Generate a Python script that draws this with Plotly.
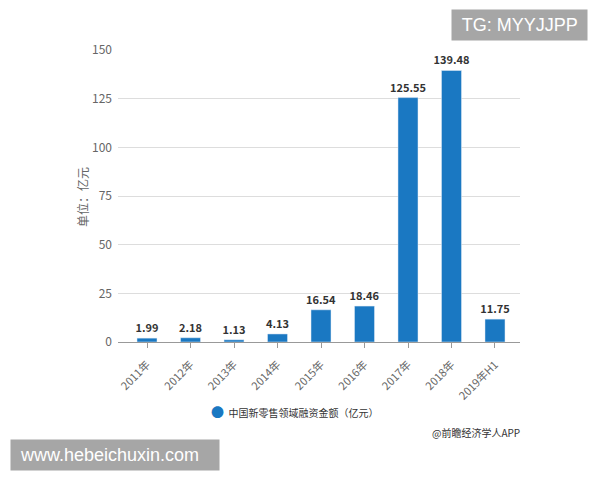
import plotly.graph_objects as go

categories = ["2011年", "2012年", "2013年", "2014年", "2015年", "2016年", "2017年", "2018年", "2019年H1"]
values = [1.99, 2.18, 1.13, 4.13, 16.54, 18.46, 125.55, 139.48, 11.75]
label_texts = ["1.99", "2.18", "1.13", "4.13", "16.54", "18.46", "125.55", "139.48", "11.75"]
series_name = "中国新零售领域融资金额（亿元）"

font_family = "Noto Sans CJK SC, Noto Sans, sans-serif"

# page body has an 8px default margin, so the figure is drawn 8px smaller
W, H = 592, 472
L, R, T, B = 110, 80, 42, 138
PW = W - L - R
PH = H - T - B


def px_x(x):
    return (x - 8 - L) / PW


def px_y(y):
    return (H - B - (y - 8)) / PH


fig = go.Figure()
fig.add_trace(go.Bar(
    x=categories, y=values, name=series_name,
    marker=dict(color="#1a78c2"),
    text=["<b>" + t + "</b>" for t in label_texts], textposition="outside",
    textfont=dict(size=11, color="#333333", family="Noto Sans CJK SC"),
    constraintext="none",
    cliponaxis=False,
    width=0.46,
))

fig.update_layout(
    width=W, height=H,
    margin=dict(l=L, r=R, t=T, b=B, autoexpand=False),
    paper_bgcolor="white", plot_bgcolor="white",
    font=dict(family=font_family, color="#666666", size=11),
    showlegend=False,
    xaxis=dict(
        range=[-0.667, 8.575],
        tickangle=-45, showgrid=False,
        showline=True, linecolor="#999999", linewidth=1,
        ticks="outside", ticklen=5, tickcolor="#999999",
        tickfont=dict(size=11, color="#666666"),
        ticklabelstandoff=6,
    ),
    yaxis=dict(
        range=[0, 150], tickvals=[0, 25, 50, 75, 100, 125, 150],
        showgrid=True, gridcolor="#dddddd", gridwidth=1,
        zeroline=False, showline=False,
        tickfont=dict(size=12, color="#666666"),
        ticklabelstandoff=5,
    ),
)

fig.add_annotation(text="单位：亿元", xref="paper", yref="paper",
                   x=px_x(82), y=px_y(197), xanchor="center", yanchor="middle",
                   showarrow=False, textangle=-90,
                   font=dict(size=12, color="#666666"))

fig.add_annotation(text="<span style='color:#1a78c2;font-size:13px'>●</span>  " + series_name,
                   xref="paper", yref="paper",
                   x=px_x(209), y=px_y(411), xanchor="left", yanchor="middle",
                   showarrow=False, font=dict(size=10, color="#333333"))
fig.add_annotation(text="@前瞻经济学人APP", xref="paper", yref="paper",
                   x=px_x(522), y=px_y(432), xanchor="right", yanchor="middle",
                   showarrow=False, font=dict(size=10, color="#333333"))

fig.add_annotation(text=" TG: MYYJJPP ", xref="paper", yref="paper",
                   x=px_x(451), y=px_y(25), xanchor="left", yanchor="middle",
                   showarrow=False, bgcolor="#a6a6a6",
                   font=dict(size=18, color="white", family="Liberation Sans, Arial"),
                   borderpad=5)
fig.add_annotation(text=" www.hebeichuxin.com   ", xref="paper", yref="paper",
                   x=px_x(10), y=px_y(455), xanchor="left", yanchor="middle",
                   showarrow=False, bgcolor="#a6a6a6",
                   font=dict(size=18, color="white", family="Liberation Sans, Arial"),
                   borderpad=5)

fig.write_html("out.html")
